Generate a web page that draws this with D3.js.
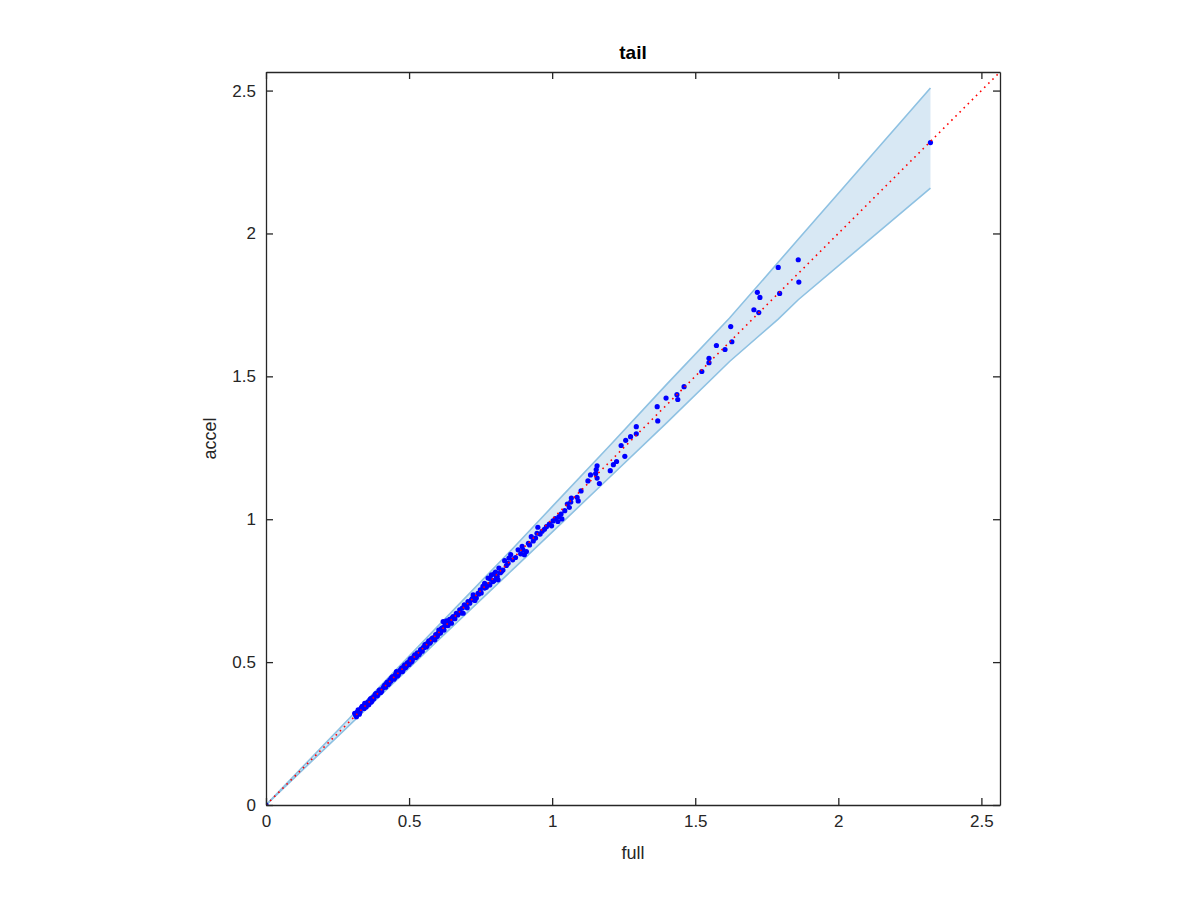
<!DOCTYPE html>
<html>
<head>
<meta charset="utf-8">
<script src="https://cdn.jsdelivr.net/npm/d3@7"></script>
<style>
  html, body { margin: 0; padding: 0; background: #fff; }
  svg { display: block; }
  text { font-family: "Liberation Sans", Arial, Helvetica, sans-serif; fill: #262626; }
</style>
</head>
<body>
<svg id="chart" width="1200" height="900"></svg>
<script>
// ---------------- data ----------------
const title = "tail";
const xLabel = "full";
const yLabel = "accel";
const axisLimit = 2.565;
const tickValues = [0, 0.5, 1, 1.5, 2, 2.5];
const tickLabels = ["0", "0.5", "1", "1.5", "2", "2.5"];

// confidence band (x, lower, upper)
const bandX  = [0, 0.31, 0.60, 0.86, 1.00, 1.20, 1.40, 1.62, 1.79, 1.86, 2.322];
const bandLo = [0, 0.297, 0.575, 0.822, 0.955, 1.146, 1.337, 1.552, 1.700, 1.768, 2.159];
const bandHi = [0, 0.323, 0.625, 0.895, 1.044, 1.256, 1.472, 1.704, 1.899, 1.980, 2.509];

// scatter points
const fullVals = [0,
  0.310,0.316,0.322,0.326,0.333,0.340,0.345,0.350,0.356,0.363,0.368,0.374,0.380,0.386,0.392,0.398,0.404,0.409,0.415,0.421,
  0.427,0.433,0.438,0.444,0.450,0.456,0.462,0.468,0.474,0.480,0.485,0.491,0.497,0.503,0.508,0.514,0.520,0.526,0.531,0.537,
  0.543,0.549,0.555,0.560,0.566,0.572,0.578,0.584,0.590,0.596,0.601,0.607,0.613,0.619,0.619,0.625,0.631,0.631,0.642,0.648,
  0.654,0.665,0.677,0.686,0.689,0.700,0.706,0.718,0.724,0.735,0.741,0.749,0.764,0.764,0.776,0.782,0.788,0.793,0.799,0.805,
  0.811,0.814,0.823,0.834,0.846,0.849,0.855,0.881,0.898,0.903,0.910,0.917,0.927,0.942,0.947,0.950,0.973,0.980,0.998,1.003,
  1.011,1.020,1.024,1.031,1.034,1.044,1.053,1.060,1.065,1.067,1.087,1.091,1.101,1.125,1.134,1.152,1.154,1.157,1.157,1.165,
  1.203,1.214,1.225,1.241,1.254,1.257,1.274,1.294,1.294,1.367,1.369,1.398,1.436,1.439,1.461,1.523,1.548,1.548,1.574,1.604,
  1.624,1.628,1.705,1.717,1.722,1.726,1.790,1.795,1.860,1.862,2.322,
  0.313,0.319,0.329,0.336,0.343,0.348,0.359,0.366,0.371,0.377,0.383,0.389,0.395,0.401,0.412,0.418,0.424,0.430,0.436,0.441,
  0.447,0.453,0.459,0.465,0.471,0.477,0.482,0.488,0.494,0.500,0.506,0.511,0.517,0.523,0.529,0.534,0.540,0.546,0.552,0.558,
  0.563,0.569,0.575,0.581,0.587,0.593,0.599,0.604,0.610,0.616,0.622,0.628,0.636,0.645,0.651,0.660,0.670,0.681,0.693,0.703,
  0.712,0.721,0.730,0.744,0.752,0.758,0.770,0.779,0.785,0.796,0.802,0.808,0.819,0.828,0.840,0.862,0.872,0.890,0.895,0.921,
  0.934,0.958,0.965,0.990];
const accelVals = [0,
  0.321,0.309,0.333,0.318,0.340,0.344,0.356,0.343,0.360,0.368,0.360,0.377,0.384,0.391,0.388,0.403,0.398,0.409,0.420,0.426,
  0.422,0.438,0.444,0.449,0.445,0.467,0.455,0.470,0.479,0.475,0.490,0.486,0.498,0.508,0.500,0.514,0.525,0.519,0.527,0.531,
  0.545,0.551,0.560,0.553,0.568,0.566,0.580,0.585,0.578,0.589,0.601,0.601,0.617,0.619,0.642,0.627,0.636,0.644,0.650,0.636,
  0.659,0.671,0.683,0.689,0.671,0.697,0.712,0.718,0.735,0.724,0.741,0.753,0.776,0.759,0.794,0.770,0.805,0.782,0.811,0.799,
  0.788,0.829,0.817,0.855,0.846,0.864,0.876,0.893,0.893,0.876,0.887,0.916,0.939,0.934,0.951,0.972,0.965,0.974,0.977,0.994,
  1.002,0.992,1.009,1.018,1.001,1.030,1.053,1.041,1.060,1.074,1.077,1.064,1.099,1.134,1.155,1.160,1.174,1.187,1.144,1.125,
  1.170,1.191,1.202,1.258,1.220,1.276,1.289,1.324,1.299,1.394,1.344,1.424,1.436,1.419,1.464,1.517,1.563,1.548,1.608,1.594,
  1.674,1.621,1.733,1.794,1.723,1.776,1.881,1.790,1.908,1.830,2.318,
  0.315,0.325,0.327,0.345,0.338,0.352,0.351,0.372,0.366,0.372,0.389,0.382,0.400,0.394,0.414,0.412,0.430,0.425,0.433,0.448,
  0.440,0.458,0.451,0.462,0.474,0.467,0.486,0.481,0.497,0.492,0.512,0.505,0.520,0.516,0.532,0.526,0.543,0.538,0.550,0.562,
  0.557,0.574,0.570,0.583,0.579,0.596,0.591,0.612,0.603,0.620,0.612,0.630,0.628,0.641,0.655,0.652,0.665,0.672,0.700,0.690,
  0.706,0.722,0.716,0.738,0.742,0.765,0.762,0.771,0.790,0.785,0.815,0.800,0.813,0.822,0.838,0.858,0.866,0.879,0.905,0.910,
  0.924,0.948,0.958,0.983];

// ---------------- layout ----------------
const svg = d3.select("#chart");
const mLeft = 266, mRight = 1000, mTop = 72, mBottom = 805;
const x = d3.scaleLinear().domain([0, axisLimit]).range([mLeft, mRight]);
const y = d3.scaleLinear().domain([0, axisLimit]).range([mBottom, mTop]);
const axisColor = "#262626";

svg.append("defs").append("clipPath").attr("id", "clip")
  .append("rect").attr("x", mLeft).attr("y", mTop).attr("width", mRight - mLeft).attr("height", mBottom - mTop);

const plot = svg.append("g").attr("clip-path", "url(#clip)");

// band
const bandData = bandX.map((v, i) => ({ x: v, lo: bandLo[i], hi: bandHi[i] }));
plot.append("path").datum(bandData)
  .attr("d", d3.area().x(d => x(d.x)).y0(d => y(d.lo)).y1(d => y(d.hi)))
  .attr("fill", "#d8e8f4").attr("stroke", "none");
plot.append("path").datum(bandData)
  .attr("d", d3.line().x(d => x(d.x)).y(d => y(d.hi)))
  .attr("fill", "none").attr("stroke", "#8ec1e2").attr("stroke-width", 1.6);
plot.append("path").datum(bandData)
  .attr("d", d3.line().x(d => x(d.x)).y(d => y(d.lo)))
  .attr("fill", "none").attr("stroke", "#8ec1e2").attr("stroke-width", 1.6);

// points
const pts = fullVals.map((v, i) => ({ x: v, y: accelVals[i] }));
plot.selectAll("circle.pt").data(pts).enter().append("circle")
  .attr("class", "pt")
  .attr("cx", d => x(d.x)).attr("cy", d => y(d.y)).attr("r", 2.6)
  .attr("fill", "#0000ff");

// red dotted identity line
plot.append("line")
  .attr("x1", x(0)).attr("y1", y(0)).attr("x2", x(axisLimit)).attr("y2", y(axisLimit))
  .attr("stroke", "#ff0000").attr("stroke-width", 1.6)
  .attr("stroke-dasharray", "1.6 4.2");

// axes box
const tickLen = 7;
const axG = svg.append("g");
const xb = d3.axisBottom(x).tickValues(tickValues).tickFormat((d, i) => tickLabels[i]).tickSizeInner(-tickLen).tickSizeOuter(0).tickPadding(10);
const xt = d3.axisTop(x).tickValues(tickValues).tickFormat("").tickSizeInner(-tickLen).tickSizeOuter(0);
const yl = d3.axisLeft(y).tickValues(tickValues).tickFormat((d, i) => tickLabels[i]).tickSizeInner(-tickLen).tickSizeOuter(0).tickPadding(10);
const yr = d3.axisRight(y).tickValues(tickValues).tickFormat("").tickSizeInner(-tickLen).tickSizeOuter(0);

function styleAxis(g) {
  g.selectAll("path.domain").attr("stroke", axisColor).attr("stroke-width", 1.3);
  g.selectAll(".tick line").attr("stroke", axisColor).attr("stroke-width", 1.3);
  g.selectAll(".tick text").attr("fill", axisColor).style("font-size", "17px")
    .style("font-family", "'Liberation Sans', Arial, Helvetica, sans-serif");
}
axG.append("g").attr("transform", `translate(0,${mBottom})`).call(xb).call(styleAxis);
axG.append("g").attr("transform", `translate(0,${mTop})`).call(xt).call(styleAxis);
axG.append("g").attr("transform", `translate(${mLeft},0)`).call(yl).call(styleAxis);
axG.append("g").attr("transform", `translate(${mRight},0)`).call(yr).call(styleAxis);

// labels
svg.append("text").attr("x", (mLeft + mRight) / 2).attr("y", 859)
  .attr("text-anchor", "middle").style("font-size", "18px").text(xLabel);
svg.append("text").attr("transform", `translate(216,${(mTop + mBottom) / 2}) rotate(-90)`)
  .attr("text-anchor", "middle").style("font-size", "18px").text(yLabel);
svg.append("text").attr("x", (mLeft + mRight) / 2).attr("y", 59)
  .attr("text-anchor", "middle").style("font-size", "19px").style("font-weight", "bold")
  .style("fill", "#000").text(title);
</script>
</body>
</html>
